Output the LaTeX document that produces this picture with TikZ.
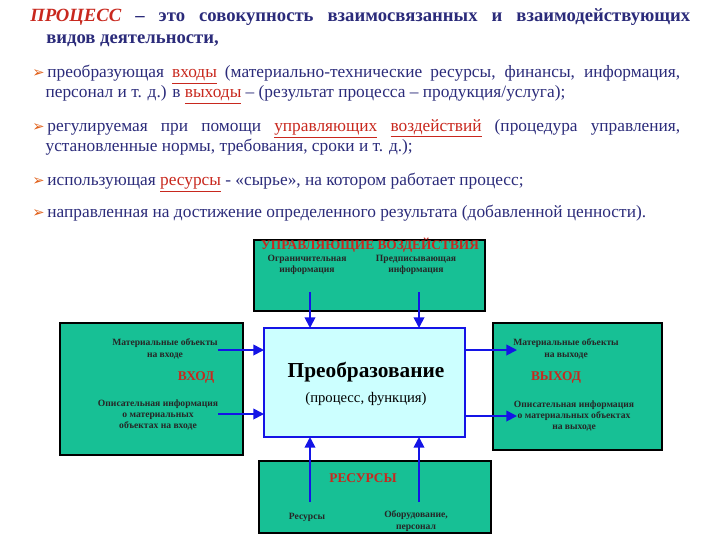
\documentclass[tikz,border=0pt]{standalone}
\usepackage{fontspec}
\setmainfont{Liberation Serif}
\newfontfamily\djv{DejaVu Sans}
\usetikzlibrary{arrows.meta}
\definecolor{tblue}{HTML}{2B2B7A}
\definecolor{tred}{HTML}{C8281E}
\definecolor{bgreen}{HTML}{17C095}
\definecolor{cfill}{HTML}{CCFFFF}
\definecolor{aor}{HTML}{E0601A}
\newcommand{\bul}{{\djv\color{aor}\fontsize{11}{11}\selectfont ➢}}
\newcommand{\rl}[1]{{\color{tred}\underline{#1}}}
\begin{document}
\begin{tikzpicture}[x=0.75pt,y=-0.75pt,
  gbox/.style={draw=black,fill=bgreen,line width=0.8pt},
  lbl/.style={font=\bfseries\fontsize{7.2}{8.5}\selectfont,align=center,text=black!85},
  rlbl/.style={font=\bfseries\fontsize{10}{11}\selectfont,text=tred},
  arr/.style={-{Triangle[length=8pt,width=8pt]},draw={rgb,255:red,20;green,20;blue,230},line width=1.3pt},
  para/.style={anchor=north west,text width=486pt,align=justify,font=\fontsize{13}{15}\selectfont,text=tblue,inner sep=0pt}]
\useasboundingbox (0,0) rectangle (720,540);
\node[anchor=north west,inner sep=0pt,font=\bfseries\fontsize{14}{17}\selectfont,text=tblue,text width=495pt,align=justify] (hd) at (30,8)
 {{\color{tred}\itshape ПРОЦЕСС} – это совокупность взаимосвязанных и взаимодействующих\linebreak\hspace*{12pt}видов деятельности,};
\node[para] (p1) at (32,65) {\bul\,преобразующая \rl{входы} (материально-технические ресурсы, финансы, информация,\linebreak\hspace*{10pt}персонал и т. д.) в \rl{выходы} – (результат процесса – продукция/услуга);};
\node[para] (p2) at (32,119) {\bul\,регулируемая при помощи \rl{управляющих} \rl{воздействий} (процедура управления,\linebreak\hspace*{10pt}установленные нормы, требования, сроки и т. д.);};
\node[para] (p3) at (32,173) {\bul\,использующая \rl{ресурсы} - «сырье», на котором работает процесс;};
\node[para] (p4) at (32,205) {\bul\,направленная на достижение определенного результата (добавленной ценности).};
% boxes
\draw[gbox] (254,240) rectangle (485,311);
\draw[gbox] (60,323) rectangle (243,455);
\draw[gbox] (493,323) rectangle (662,450);
\draw[gbox] (259,461) rectangle (491,533);
\draw[draw={rgb,255:red,20;green,20;blue,230},fill=cfill,line width=1.3pt] (264,328) rectangle (465,437);
\node[rlbl] (t0) at (370,245) {УПРАВЛЯЮЩИЕ ВОЗДЕЙСТВИЯ};
\node[lbl] (t1) at (307,265) {Ограничительная\\информация};
\node[lbl] (t2) at (416,265) {Предписывающая\\информация};
\node[lbl] (l1) at (165,349) {Материальные объекты\\на входе};
\node[rlbl] (l0) at (196,377) {ВХОД};
\node[lbl] (l2) at (158,415) {Описательная информация\\о материальных\\объектах на входе};
\node[lbl] (r1) at (566,349) {Материальные объекты\\на выходе};
\node[rlbl] (r0) at (556,377) {ВЫХОД};
\node[lbl] (r2) at (574,416) {Описательная информация\\о материальных объектах\\на выходе};
\node[rlbl] (b0) at (363,478) {РЕСУРСЫ};
\node[lbl] (b1) at (307,517) {Ресурсы};
\node[lbl] (b2) at (416,521) {Оборудование,\\персонал};
\node[font=\bfseries\fontsize{16}{19}\selectfont] (c1) at (366,372) {Преобразование};
\node[font=\fontsize{11}{13}\selectfont] (c2) at (366,399) {(процесс, функция)};
% arrows
\coordinate (ta) at (310,292); \coordinate (tb) at (419,292);
\coordinate (la) at (218,350); \coordinate (lb) at (218,414);
\coordinate (ra) at (517,350); \coordinate (rb) at (517,416);
\coordinate (ba) at (310,502); \coordinate (bb) at (419,502);
\draw[arr] (ta) -- (310,328);
\draw[arr] (tb) -- (419,328);
\draw[arr] (la) -- (264,350);
\draw[arr] (lb) -- (264,414);
\draw[arr] (465,350) -- (ra);
\draw[arr] (465,416) -- (rb);
\draw[arr] (ba) -- (310,437);
\draw[arr] (bb) -- (419,437);
\end{tikzpicture}
\end{document}
